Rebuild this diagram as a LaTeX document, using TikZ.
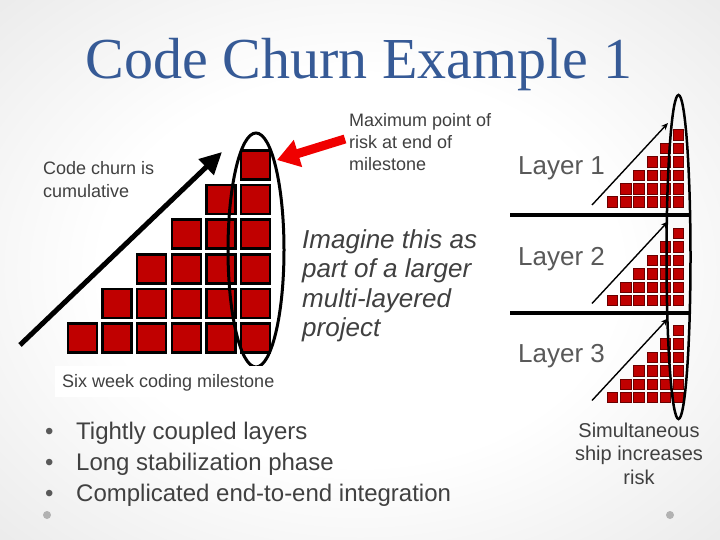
\documentclass[tikz,border=0pt]{standalone}
\usepackage{fontspec}
\setmainfont{Liberation Sans}
\newfontfamily\titlefont{Liberation Serif}
\usetikzlibrary{arrows.meta,shapes.geometric}
\definecolor{titleblue}{HTML}{365A96}
\definecolor{txtgray}{HTML}{404040}
\definecolor{laygray}{HTML}{595959}
\definecolor{brick}{HTML}{C00000}
\definecolor{riskred}{HTML}{F00000}
\pgfdeclareradialshading{slidebg}{\pgfpoint{0bp}{0bp}}{color(0bp)=(white); color(18bp)=(white); color(50bp)=(gray!28); color(72bp)=(gray!40)}
\begin{document}
\begin{tikzpicture}[x=1pt,y=-1pt,
  bigsq/.style={draw=black,line width=2.5pt,fill=brick,minimum size=29pt,inner sep=0pt},
  smallsq/.style={draw=brick!55!black,line width=0.6pt,fill=brick,minimum size=10.5pt,inner sep=0pt},
  label18/.style={font=\fontsize{18}{22}\selectfont,text=txtgray,align=left,inner sep=0pt},
  laylabel/.style={font=\fontsize{26}{30}\selectfont,text=laygray,inner sep=0pt,anchor=base west},
  oval/.style={draw=black,ellipse,inner sep=0pt},
  smallarrow/.style={line width=1.4pt,-{Stealth[length=7pt,width=6pt]}},
  divider/.style={line width=4pt}]
\shade[shading=slidebg] (0,0) rectangle (720,540);
\useasboundingbox (0,0) rectangle (720,540);

% title
\node[font=\titlefont\fontsize{58}{62}\selectfont,text=titleblue,anchor=base,inner sep=0pt] (title) at (359,79) {Code Churn Example 1};

% big staircase
\foreach \i in {0,...,5}{
  \foreach \j in {0,...,\i}{
    \node[bigsq] (b\i\j) at ({82.5+34.6*\i},{338-34.6*\j}) {};
  }
}
\node[oval,line width=3pt,minimum width=56pt,minimum height=234pt] (riskoval) at (256,250) {};

\coordinate (cs) at (20,345);
\coordinate (ce) at (222,152);
\draw[line width=5pt,-{Triangle[length=22pt,width=21pt]}] (cs) -- (ce);

\coordinate (redtail) at (345,139);
\coordinate (redtip) at (277,160);
\draw[riskred,line width=9pt,-{Triangle[length=22pt,width=27pt]}] (redtail) -- (redtip);

% left texts (base anchor = baseline of last line)
\node[label18,anchor=base west] (churn) at (43,197) {Code churn is\\cumulative};
\node[label18,anchor=base west] (maxrisk) at (349,171) {Maximum point of\\risk at end of\\milestone};
\node[font=\fontsize{26}{29.5}\selectfont\itshape,text=txtgray,align=left,inner sep=0pt,anchor=base west] (imagine) at (302,336.5) {Imagine this as\\part of a larger\\multi-layered\\project};

\node[fill=white,text=txtgray,font=\fontsize{18}{22}\selectfont,inner xsep=7pt,inner ysep=6pt,text height=15pt,text depth=3.5pt,anchor=base west] (sixweek) at (55,387) {Six week coding milestone};

\node[font=\fontsize{24}{31}\selectfont,text=txtgray,align=left,inner sep=0pt,anchor=base west] (bullets) at (45,501)
 {\makebox[31pt][l]{\textcolor{laygray}{•}}Tightly coupled layers\\
  \makebox[31pt][l]{\textcolor{laygray}{•}}Long stabilization phase\\
  \makebox[31pt][l]{\textcolor{laygray}{•}}Complicated end-to-end integration};

% layers
\node[laylabel] (lay1) at (518,175) {Layer 1};
\node[laylabel] (lay2) at (518,265) {Layer 2};
\node[laylabel] (lay3) at (518,362) {Layer 3};

\foreach \L/\yb in {1/202,2/300.5,3/397.5}{
  \foreach \i in {0,...,5}{
    \foreach \j in {0,...,\i}{
      \node[smallsq] (s\L\i\j) at ({612.5+13.2*\i},{\yb-13.4*\j}) {};
    }
  }
  \coordinate (sa\L) at (592,{\yb+3});
  \coordinate (sb\L) at (668,{\yb-79});
  \draw[smallarrow] (sa\L) -- (sb\L);
}

\coordinate (d1a) at (510,215); \coordinate (d1b) at (690,215);
\coordinate (d2a) at (510,313); \coordinate (d2b) at (690,313);
\draw[divider] (d1a) -- (d1b);
\draw[divider] (d2a) -- (d2b);

\node[oval,line width=2.5pt,minimum width=24pt,minimum height=324pt] (shipoval) at (678.5,257) {};

\node[font=\fontsize{20}{23.5}\selectfont,text=txtgray,align=center,inner sep=0pt,anchor=base] (simul) at (639,484) {Simultaneous\\ship increases\\risk};

% dots
\node[circle,fill=gray!60,minimum size=8pt,inner sep=0pt] (dotl) at (47,515) {};
\node[circle,fill=gray!60,minimum size=8pt,inner sep=0pt] (dotr) at (670,515) {};
\end{tikzpicture}
\end{document}
